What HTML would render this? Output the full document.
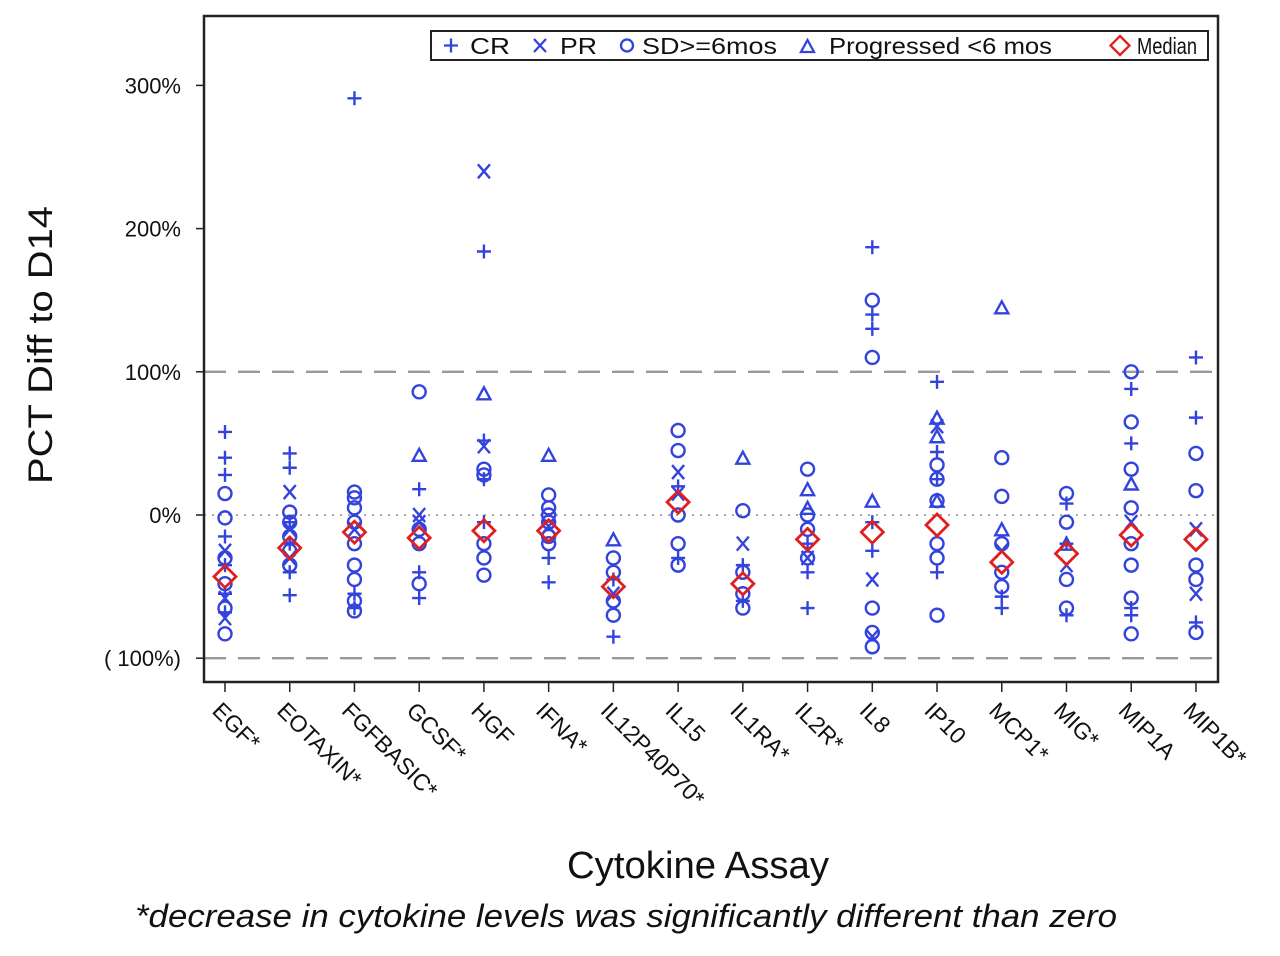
<!DOCTYPE html>
<html><head><meta charset="utf-8"><style>
body{margin:0;background:#fff}
svg{display:block;font-family:"Liberation Sans",sans-serif}
</style></head><body>
<svg id="chart" width="1280" height="956" viewBox="0 0 1280 956" xmlns="http://www.w3.org/2000/svg">
<rect x="0" y="0" width="1280" height="956" fill="#fff"/>
<g id="grid"></g>
<g id="marks"></g>
<rect x="204" y="16" width="1014" height="666" fill="none" stroke="#222" stroke-width="2.5"/>
<g id="axes"></g>
<g>
<rect x="431" y="31" width="777" height="29" fill="#fff" stroke="#222" stroke-width="2"/>
<g stroke="#3344dd" stroke-width="2.3" fill="none">
<path d="M444 45.5h14M451 38.5v14"/>
<path d="M534 39l12 13M546 39l-12 13"/>
<circle cx="627" cy="45.5" r="6"/>
<path d="M801 52h13l-6.5-12z"/>
</g>
<path d="M1120 36l9.5 9.5-9.5 9.5-9.5-9.5z" fill="none" stroke="#e02020" stroke-width="2.3"/>
<g font-size="23" fill="#111">
<text x="470" y="54" textLength="40" lengthAdjust="spacingAndGlyphs">CR</text>
<text x="560" y="54" textLength="37" lengthAdjust="spacingAndGlyphs">PR</text>
<text x="642" y="54" textLength="135" lengthAdjust="spacingAndGlyphs">SD&gt;=6mos</text>
<text x="829" y="54" textLength="223" lengthAdjust="spacingAndGlyphs">Progressed &lt;6 mos</text>
<text x="1137" y="54" textLength="60" lengthAdjust="spacingAndGlyphs">Median</text>
</g>
</g>
<text transform="translate(52,345) rotate(-90)" text-anchor="middle" font-size="34" fill="#111" textLength="278" lengthAdjust="spacingAndGlyphs">PCT Diff to D14</text>
<text x="698" y="878" text-anchor="middle" font-size="38" fill="#111" textLength="262" lengthAdjust="spacingAndGlyphs">Cytokine Assay</text>
<text x="626" y="927" text-anchor="middle" font-size="32" font-style="italic" fill="#111" textLength="982" lengthAdjust="spacingAndGlyphs">*decrease in cytokine levels was significantly different than zero</text>
</svg>
<script>
const categories=["EGF*","EOTAXIN*","FGFBASIC*","GCSF*","HGF","IFNA*","IL12P40P70*","IL15","IL1RA*","IL2R*","IL8","IP10","MCP1*","MIG*","MIP1A","MIP1B*"];
const yTicks=[300,200,100,0,-100];
const yTickLabels=["300%","200%","100%","0%","( 100%)"];
const crValues=[[58,40,28,-15,-35,-55,-68],[43,33,-5,-20,-40,-56],[291,-55,-65],[18,-40,-58],[184,52,25,-5],[-30,-47],[-85,-45],[-30,20],[-35,-60],[-65,-20,-40],[187,140,130,-5,-25],[93,44,25,-40],[-57,-65],[8,-20,-70],[88,50,-65,-70],[110,68,-75]];
const prValues=[[-25,-58,-72],[16,-10,-30],[-10],[-5,0],[240,48],[-8],[-55],[30,15],[-20],[-30],[-45,-85],[62],[-25],[-35],[-5],[-10,-55]];
const sdValues=[[15,-2,-30,-48,-65,-83],[2,-5,-15,-25,-35],[16,12,5,-5,-20,-35,-45,-60,-67],[86,-48,-10,-20],[32,28,-20,-30,-42],[14,5,0,-5,-15,-20],[-30,-40,-60,-70],[59,45,0,-20,-35],[3,-40,-55,-65],[32,0,-10,-30],[150,110,-65,-82,-92],[35,25,10,-20,-30,-70],[40,13,-20,-40,-50],[15,-5,-45,-65],[100,65,32,5,-20,-35,-58,-83],[43,17,-35,-45,-82]];
const progValues=[[],[],[],[42],[85],[42],[-17],[],[40],[18,5],[10],[68,55,10],[145,-10],[-20],[22],[]];
const medians=[-43,-23,-12,-16,-11,-11,-50,9,-48,-17,-12,-7,-33,-27,-14,-17];

const NS="http://www.w3.org/2000/svg";
const xs=i=>225+i*64.73;
const ys=v=>515-1.432*v;
function mk(tag,attrs,parent){const e=document.createElementNS(NS,tag);for(const k in attrs)e.setAttribute(k,attrs[k]);parent.appendChild(e);return e;}
const grid=document.getElementById('grid'),marks=document.getElementById('marks'),axes=document.getElementById('axes');
let g=mk('line',{x1:204,x2:1218,y1:ys(100),y2:ys(100),stroke:'#999','stroke-width':2.3,'stroke-dasharray':'22 12'},grid);


g=mk('line',{x1:204,x2:1218,y1:ys(-100),y2:ys(-100),stroke:'#999','stroke-width':2.3,'stroke-dasharray':'22 12'},grid);


g=mk('line',{x1:204,x2:1218,y1:ys(0),y2:ys(0),stroke:'#aaa','stroke-width':2,'stroke-dasharray':'2 6'},grid);


yTicks.forEach((t,i)=>{
  const l=mk('line',{x1:196,x2:204,y1:ys(t),y2:ys(t),stroke:'#222','stroke-width':1.5},axes);
  
  
  const tx=mk('text',{x:181,y:ys(t)+8,'text-anchor':'end','font-size':22,fill:'#111'},axes);
  
  
  tx.textContent=yTickLabels[i];
});
categories.forEach((c,i)=>{
  const x=xs(i);
  const l=mk('line',{x1:x,x2:x,y1:682,y2:692,stroke:'#222','stroke-width':1.5},axes);
  
  
  const tx=mk('text',{transform:`translate(${x-14},${712}) rotate(45)`,'font-size':23,fill:'#111'},axes);
  
  
  tx.textContent=c;
});
const B='#3344dd';
function sym(type,x,y){
  let e;
  if(type==='cr')e=mk('path',{d:`M${x-7} ${y}h14M${x} ${y-7}v14`,stroke:B,'stroke-width':2.4,fill:'none'},marks);
  else if(type==='pr')e=mk('path',{d:`M${x-6} ${y-7}l12 14M${x+6} ${y-7}l-12 14`,stroke:B,'stroke-width':2.4,fill:'none'},marks);
  else if(type==='sd')e=mk('circle',{cx:x,cy:y,r:6.5,stroke:B,'stroke-width':2.4,fill:'none'},marks);
  else if(type==='prog')e=mk('path',{d:`M${x-6.5} ${y+6}h13l-6.5-12z`,stroke:B,'stroke-width':2.4,fill:'none'},marks);
  else e=mk('path',{d:`M${x} ${y-11}l11 11-11 11-11-11z`,stroke:'#e02020','stroke-width':2.8,fill:'none'},marks);
  return e;
}
categories.forEach((c,i)=>{
  const x=xs(i);
  [['cr',crValues],['pr',prValues],['sd',sdValues],['prog',progValues]].forEach(([t,arr])=>{
    arr[i].forEach(v=>{
      const e=sym(t,x,ys(v));
      
      
    });
  });
  const m=sym('med',x,ys(medians[i]));
  
  
});
</script>
</body></html>
